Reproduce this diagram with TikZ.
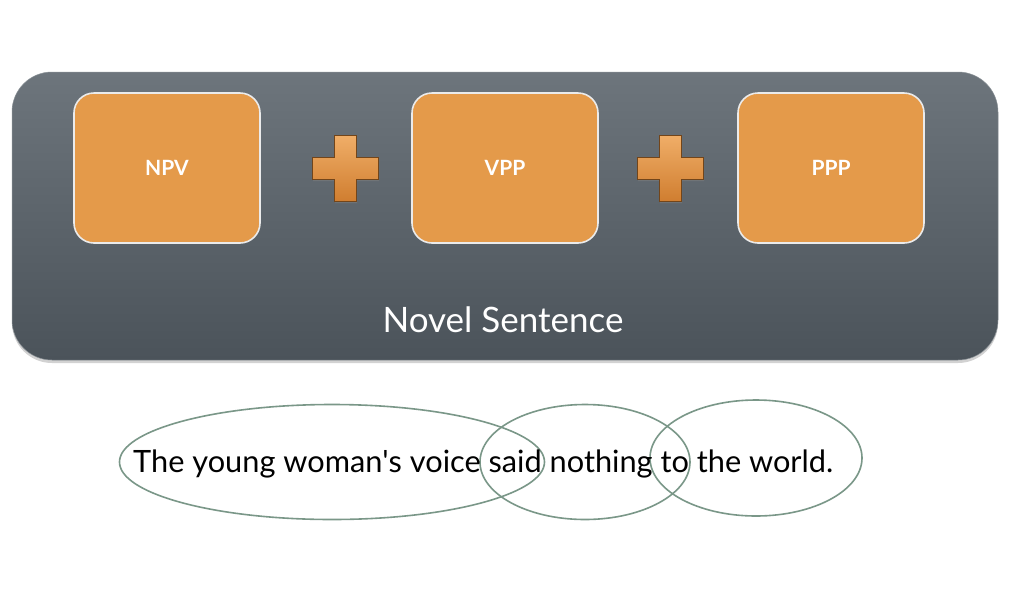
\documentclass[tikz,border=0pt]{standalone}
\usepackage{fontspec}
\setmainfont{Lato}
\usetikzlibrary{shadows,shapes.geometric}
\definecolor{boxorange}{HTML}{E49A4A}
\definecolor{plustop}{HTML}{F0AE68}
\definecolor{plusbot}{HTML}{D07E30}
\definecolor{panetop}{HTML}{6D757C}
\definecolor{panebot}{HTML}{4B535A}
\definecolor{ringcol}{HTML}{7A9788}
\tikzset{
  pane/.style={rounded corners=40pt, top color=panetop, bottom color=panebot, draw=panetop!80!white, line width=0.5pt,
    drop shadow={shadow xshift=0pt, shadow yshift=-3pt, opacity=0.35}},
  partbox/.style={draw=white!92!black, line width=1.6pt, fill=boxorange, rounded corners=20pt,
    minimum width=186pt, minimum height=150pt, text=white, font=\bfseries\fontsize{21}{24}\selectfont},
  plusshape/.style={top color=plustop, bottom color=plusbot, draw=black!45!plusbot, line width=0.8pt,
    drop shadow={shadow xshift=1pt, shadow yshift=-2pt, opacity=0.5}},
  ring/.style={draw=ringcol, line width=1.6pt, ellipse, inner sep=0pt},
  panelabel/.style={text=white, font=\fontsize{35}{40}\selectfont},
}
\newcommand{\plusat}[2]{%
  \path[plusshape] (#1-11,#2-33) -- (#1+11,#2-33) -- (#1+11,#2-11) -- (#1+33,#2-11) -- (#1+33,#2+11)
   -- (#1+11,#2+11) -- (#1+11,#2+33) -- (#1-11,#2+33) -- (#1-11,#2+11) -- (#1-33,#2+11)
   -- (#1-33,#2-11) -- (#1-11,#2-11) -- cycle;}
\begin{document}
\begin{tikzpicture}[x=1pt,y=-1pt]
\useasboundingbox (0,0) rectangle (1010,590);
\fill[white] (0,0) rectangle (1010,590);
% panel
\path[pane] (12,72) rectangle (998,360);
\node[partbox] (npv) at (167,168) {NPV};
\node[partbox] (vpp) at (505,168) {VPP};
\node[partbox] (ppp) at (831,168) {PPP};
\plusat{345}{168}
\plusat{670}{168}
\node[panelabel] (novel) at (503,320) {Novel Sentence};
% ellipses
\node[ring, minimum width=425pt, minimum height=115pt] (e1) at (332,462) {};
\node[ring, minimum width=210pt, minimum height=115pt] (e2) at (585,462) {};
\node[ring, minimum width=212pt, minimum height=116pt] (e3) at (756,458) {};
\node[anchor=base west, inner sep=0pt, font=\fontsize{31}{36}\selectfont] (sent) at (133,472)
  {\resizebox{700pt}{!}{The young woman\textquotesingle s voice said nothing to the world.}};
\end{tikzpicture}
\end{document}
